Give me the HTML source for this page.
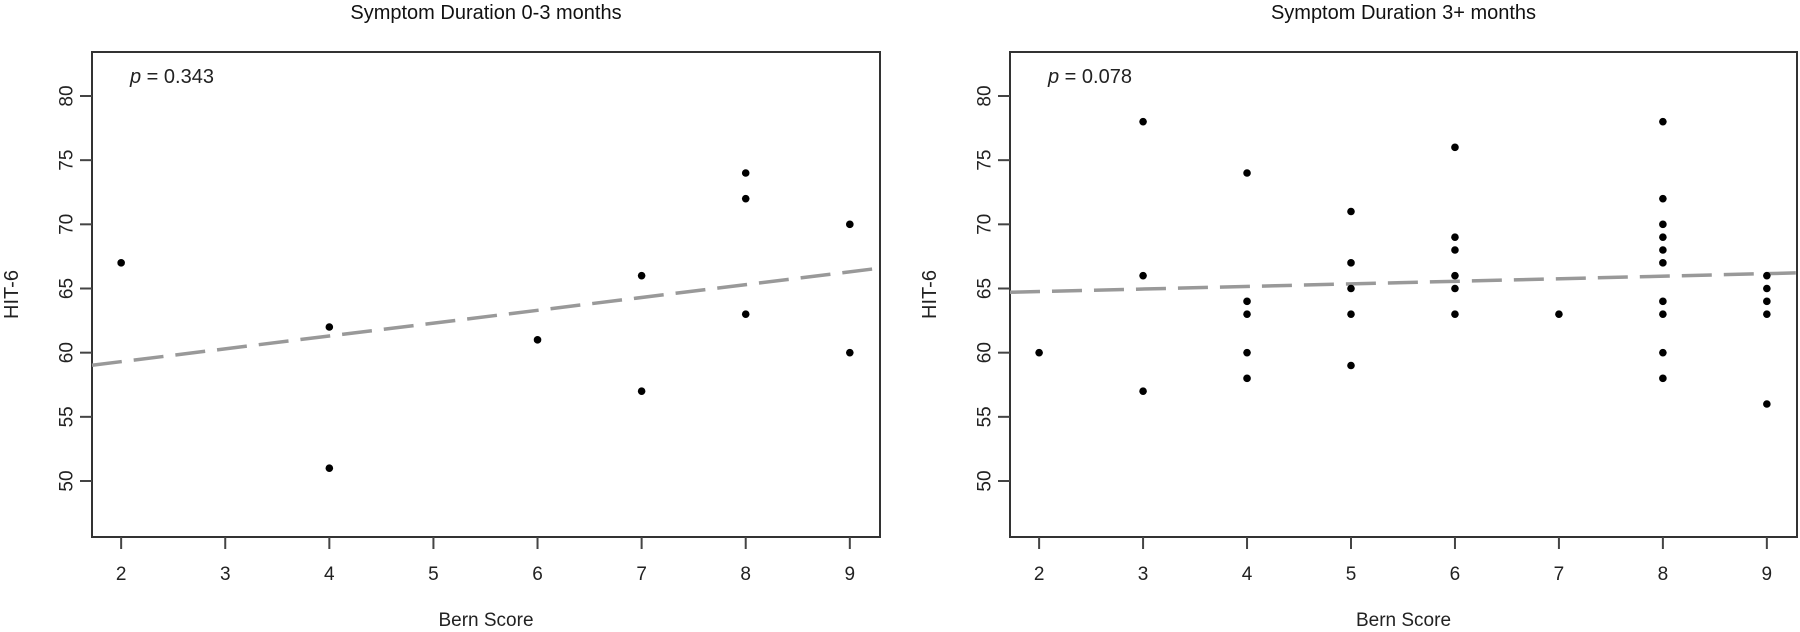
<!DOCTYPE html>
<html><head><meta charset="utf-8"><style>
body{margin:0;background:#fff;}
svg{display:block;font-family:"Liberation Sans",Arial,sans-serif;}
</style></head><body>
<svg id="c" width="1800" height="632" viewBox="0 0 1800 632" xmlns="http://www.w3.org/2000/svg"></svg>
<script>
const titles=["Symptom Duration 0-3 months","Symptom Duration 3+ months"];
const pvals=["0.343","0.078"];
const xTicks=[2,3,4,5,6,7,8,9];
const yTicks=[50,55,60,65,70,75,80];
const leftX=[2,4,4,6,7,7,8,8,8,9,9];
const leftY=[67,62,51,61,66,57,74,72,63,70,60];
const rightX=[2,3,3,3,4,4,4,4,4,5,5,5,5,5,6,6,6,6,6,6,7,8,8,8,8,8,8,8,8,8,8,9,9,9,9,9];
const rightY=[60,78,66,57,74,64,63,60,58,71,67,65,63,59,76,69,68,66,65,63,63,78,72,70,69,68,67,64,63,60,58,66,65,64,63,56];
const fitIntercept=[57.3,64.36];
const fitSlope=[1.0,0.2];

const NS="http://www.w3.org/2000/svg";
const svgEl=document.getElementById('c');
function mk(tag,attrs,parent){const e=document.createElementNS(NS,tag);for(const k in attrs)e.setAttribute(k,attrs[k]);(parent||svgEl).appendChild(e);return e;}
const panels=[{x0:92,x1:880,xs:[leftX,leftY],name:'left'},{x0:1010,x1:1797,xs:[rightX,rightY],name:'right'}];
const plotTop=52,plotBot=537;
const xmin=1.72,xmax=9.29;
function sy(v){return 481-(v-50)*(385/30);}
panels.forEach((p,i)=>{
  const sx=v=>p.x0+(v-xmin)/(xmax-xmin)*(p.x1-p.x0);
  const g=mk('g',{});
  
  
  const t=mk('text',{x:(p.x0+p.x1)/2,y:19,'text-anchor':'middle','font-size':20,fill:'#111'},g);
  t.textContent=titles[i];
  
  
  const box=mk('rect',{x:p.x0,y:plotTop,width:p.x1-p.x0,height:plotBot-plotTop,fill:'none',stroke:'#333','stroke-width':2},g);
  
  
  xTicks.forEach(v=>{
    const x=sx(v);
    const tk=mk('line',{x1:x,x2:x,y1:plotBot,y2:plotBot+12,stroke:'#444','stroke-width':2},g);
    
    
    const tl=mk('text',{x:x,y:580,'text-anchor':'middle','font-size':19,fill:'#222'},g);
    tl.textContent=String(v);
    
    
  });
  yTicks.forEach(v=>{
    const y=sy(v);
    const tk=mk('line',{x1:p.x0-12,x2:p.x0,y1:y,y2:y,stroke:'#444','stroke-width':2},g);
    
    
    const tx=p.x0-25;
    const tl=mk('text',{x:tx,y:y,'text-anchor':'middle','dominant-baseline':'central','font-size':19,fill:'#222',transform:'rotate(-90 '+tx+' '+y+')'},g);
    tl.textContent=String(v);
    
    
  });
  const xl=mk('text',{x:(p.x0+p.x1)/2,y:626,'text-anchor':'middle','font-size':19,fill:'#222'},g);
  xl.textContent='Bern Score';
  
  
  const lx=p.x0-80,ly=(plotTop+plotBot)/2;
  const yl=mk('text',{x:lx,y:ly,'text-anchor':'middle','dominant-baseline':'central','font-size':20,fill:'#222',transform:'rotate(-90 '+lx+' '+ly+')'},g);
  yl.textContent='HIT-6';
  
  
  const pt=mk('text',{x:p.x0+38,y:83,'font-size':20,fill:'#222'},g);
  
  
  const it=mk('tspan',{'font-style':'italic'},pt);
  it.textContent='p';
  const rest=mk('tspan',{},pt);
  rest.textContent=' = '+pvals[i];
  const ln=mk('line',{x1:sx(xmin),x2:sx(xmax),y1:sy(fitIntercept[i]+fitSlope[i]*xmin),y2:sy(fitIntercept[i]+fitSlope[i]*xmax),stroke:'#999','stroke-width':3.5,'stroke-dasharray':'30 12'},g);
  
  
  const X=p.xs[0],Y=p.xs[1];
  X.forEach((xv,j)=>{
    const c=mk('circle',{cx:sx(xv),cy:sy(Y[j]),r:3.8,fill:'#000'},g);
    
    
  });
});
</script>
</body></html>
